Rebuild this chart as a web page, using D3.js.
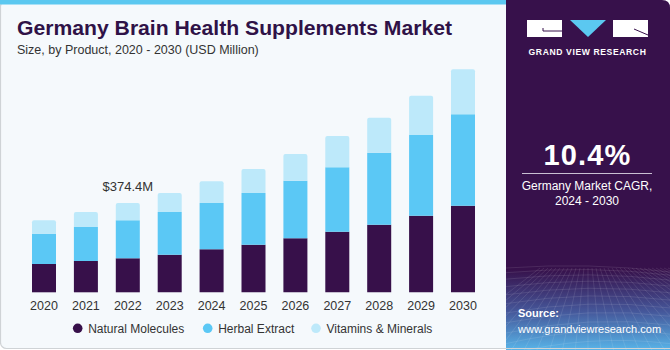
<!DOCTYPE html>
<html><head><meta charset="utf-8">
<script src="https://cdn.jsdelivr.net/npm/d3@7"></script>
<style>html,body{margin:0;padding:0;background:#fff;}svg{display:block;font-family:"Liberation Sans",Arial,sans-serif;}</style>
</head><body><svg id="c" width="670" height="350"></svg>
<script>
const years = ["2020","2021","2022","2023","2024","2025","2026","2027","2028","2029","2030"];
const naturalMolecules = [118.7,131.2,142.6,157.7,180.3,199.6,226.4,254.1,283.4,321.2,363.1];
const herbalExtract   = [127.0,142.6,159.3,179.0,194.1,216.8,241.5,270.0,301.9,338.4,383.2];
const vitaminsMinerals= [56.2,62.9,72.5,79.7,91.0,100.6,112.0,131.2,146.8,164.8,188.7];
const seriesNames = ["Natural Molecules","Herbal Extract","Vitamins & Minerals"];
const seriesColors = ["#37104a","#5bc8f5","#bde9fa"];
const annotationYear = "2022";
const annotationText = "$374.4M";

const svg = d3.select("#c");
const defs = svg.append("defs");

// left panel background
svg.append("rect").attr("x",0.5).attr("y",0.5).attr("width",520).attr("height",348).attr("rx",6)
  .attr("fill","#f5f9fc").attr("stroke","#cfd3d6").attr("stroke-width",1.2);
svg.append("rect").attr("x",0).attr("y",0).attr("width",506).attr("height",4.5).attr("fill","#5bc8f0");

// right panel
const g1 = defs.append("linearGradient").attr("id","rg").attr("x1",0).attr("y1",0).attr("x2",0).attr("y2",1);
g1.append("stop").attr("offset","0").attr("stop-color","#37114b");
g1.append("stop").attr("offset","0.77").attr("stop-color","#37114b");
g1.append("stop").attr("offset","0.89").attr("stop-color","#45579a");
g1.append("stop").attr("offset","1").attr("stop-color","#58b4e8");
const clip = defs.append("clipPath").attr("id","rp");
clip.append("path").attr("d","M506,0 H662 Q670,0 670,8 V350 H506 Z");
const rp = svg.append("g").attr("clip-path","url(#rp)");
rp.append("rect").attr("x",506).attr("y",0).attr("width",164).attr("height",350).attr("fill","url(#rg)");
// faint grid texture at bottom
const grid = rp.append("g").attr("stroke","#ffffff").attr("stroke-opacity",0.13).attr("stroke-width",0.8).attr("fill","none");
d3.range(0,14).forEach(i=>{
  const yy = 268 + Math.pow(i,1.35)*3.2;
  grid.append("path").attr("d",`M506,${yy+ (i*1.5)} Q590,${yy-6} 670,${yy+4}`);
});
d3.range(-12,26).forEach(i=>{
  const xt = 588 + i*4, xb = 588 + i*13;
  grid.append("line").attr("x1",xt).attr("y1",268).attr("x2",xb).attr("y2",352);
});
svg.append("line").attr("x1",506).attr("y1",348.5).attr("x2",670).attr("y2",348.5).attr("stroke","#cfd3d6").attr("stroke-width",1.2);

// logo
const lg = svg.append("g");
lg.append("rect").attr("x",527).attr("y",20).attr("width",35).attr("height",17).attr("fill","#ffffff");
lg.append("path").attr("d","M543,31 H562 M543,28 V31").attr("stroke","#37114b").attr("stroke-width",1).attr("fill","none");
lg.append("path").attr("d","M570,20 L606,20 L588,37 Z").attr("fill","#5bc8f0");
lg.append("rect").attr("x",613).attr("y",20).attr("width",35).attr("height",17).attr("fill","#ffffff");
lg.append("path").attr("d","M634,29 L648,35").attr("stroke","#37114b").attr("stroke-width",1).attr("fill","none");
svg.append("text").attr("x",587.5).attr("y",54.5).attr("text-anchor","middle").attr("fill","#ffffff")
  .attr("font-size",8.6).attr("font-weight","bold").attr("letter-spacing",0.6).text("GRAND VIEW RESEARCH");

// CAGR
svg.append("text").attr("x",587.5).attr("y",165).attr("text-anchor","middle").attr("fill","#ffffff")
  .attr("font-size",29).attr("font-weight","bold").attr("letter-spacing",1.2).text("10.4%");
svg.append("line").attr("x1",522).attr("x2",652).attr("y1",173.5).attr("y2",173.5).attr("stroke","#c9bfd3").attr("stroke-width",1);
svg.append("text").attr("x",587).attr("y",190).attr("text-anchor","middle").attr("fill","#ffffff")
  .attr("font-size",12).text("Germany Market CAGR,");
svg.append("text").attr("x",587).attr("y",204.5).attr("text-anchor","middle").attr("fill","#ffffff")
  .attr("font-size",12).text("2024 - 2030");

// source
svg.append("text").attr("x",518).attr("y",317).attr("fill","#ffffff").attr("font-size",11).attr("font-weight","bold").text("Source:");
svg.append("text").attr("x",518).attr("y",332.5).attr("fill","#ffffff").attr("font-size",11).text("www.grandviewresearch.com");

// titles
svg.append("text").attr("x",17).attr("y",35).attr("fill","#2f1247").attr("font-size",20).attr("font-weight","bold")
  .attr("textLength",435).attr("lengthAdjust","spacingAndGlyphs").text("Germany Brain Health Supplements Market");
svg.append("text").attr("x",17).attr("y",54).attr("fill","#333333").attr("font-size",12.5).text("Size, by Product, 2020 - 2030 (USD Million)");

// scales
const x = d3.scaleBand().domain(years).range([23.05,483.95]).paddingInner(0.427).paddingOuter(0.2135);
const y = d3.scaleLinear().domain([0,1000]).range([292.3,53.8]);

const data = years.map((yr,i)=>({year:yr, "Natural Molecules":naturalMolecules[i], "Herbal Extract":herbalExtract[i], "Vitamins & Minerals":vitaminsMinerals[i]}));
const stack = d3.stack().keys(seriesNames)(data);
const color = d3.scaleOrdinal().domain(seriesNames).range(seriesColors);

const bars = svg.append("g");
stack.forEach((layer,li)=>{
  bars.append("g").attr("fill",color(layer.key)).selectAll("path").data(layer).join("path")
    .attr("d",d=>{
      const x0 = x(d.data.year), w = x.bandwidth();
      const y0 = y(d[0]), y1 = y(d[1]);
      if (li === stack.length-1) {
        const r = 2;
        return `M${x0},${y0} V${y1+r} Q${x0},${y1} ${x0+r},${y1} H${x0+w-r} Q${x0+w},${y1} ${x0+w},${y1+r} V${y0} Z`;
      }
      return `M${x0},${y0} V${y1} H${x0+w} V${y0} Z`;
    });
});

// axis
const ax = svg.append("g").attr("transform","translate(0,292.3)").call(d3.axisBottom(x).tickSize(0).tickPadding(6));
ax.select(".domain").remove();
ax.selectAll("text").attr("font-size",12.5).attr("fill","#333333").attr("font-family","\"Liberation Sans\",Arial,sans-serif").attr("dy","0.9em");

// annotation
const ai = years.indexOf(annotationYear);
const tot = naturalMolecules[ai]+herbalExtract[ai]+vitaminsMinerals[ai];
svg.append("text").attr("x",x(annotationYear)+x.bandwidth()/2).attr("y",y(tot)-12.5).attr("text-anchor","middle")
  .attr("fill","#333333").attr("font-size",13).text(annotationText);

// legend
const legX = [77.7,207.7,316];
const leg = svg.append("g");
seriesNames.forEach((n,i)=>{
  leg.append("circle").attr("cx",legX[i]).attr("cy",328.3).attr("r",4.8).attr("fill",seriesColors[i]);
  leg.append("text").attr("x",legX[i]+10.5).attr("y",332.5).attr("fill","#333333").attr("font-size",12).text(n);
});
</script></body></html>
